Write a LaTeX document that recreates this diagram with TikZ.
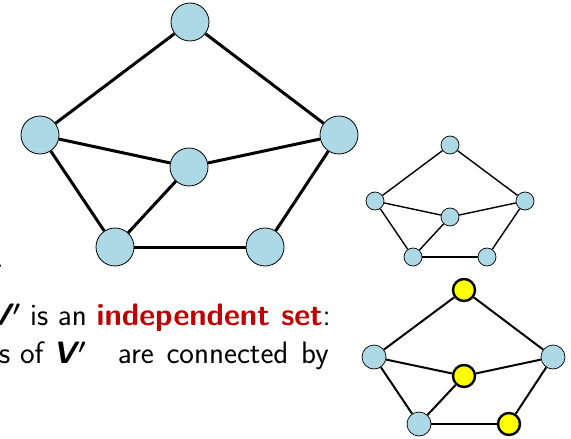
\documentclass[tikz,border=0pt]{standalone}
\usepackage{xcolor}
\definecolor{nodeblue}{RGB}{173,216,230}
\definecolor{hlred}{RGB}{192,0,0}
\definecolor{hlyellow}{RGB}{255,255,0}
\newcommand{\vprime}{{\bfseries\itshape V}\kern2.5pt{\boldmath$'$}}
\begin{document}
\begin{tikzpicture}[x=1pt,y=-1pt,
  bigv/.style={circle,draw=black,fill=nodeblue,line width=0.8pt,minimum size=38pt,inner sep=0pt},
  bige/.style={line width=3pt},
  smallv/.style={circle,draw=black,fill=nodeblue,line width=0.7pt,minimum size=18pt,inner sep=0pt},
  smalle/.style={line width=1.4pt},
  midv/.style={circle,draw=black,fill=nodeblue,line width=0.7pt,minimum size=24pt,inner sep=0pt},
  selv/.style={circle,draw=black,fill=hlyellow,line width=2.4pt,minimum size=22pt,inner sep=0pt},
  mide/.style={line width=2pt},
  txt/.style={inner sep=0pt,font=\sffamily\fontsize{31}{36}\selectfont}]
\useasboundingbox (0,0) rectangle (571,439);
\clip (0,0) rectangle (571,439);
% big graph
\node[bigv] (T) at (190,22) {};
\node[bigv] (L) at (40,135) {};
\node[bigv] (R) at (339,135) {};
\node[bigv] (C) at (189,167) {};
\node[bigv] (BL) at (115,247) {};
\node[bigv] (BR) at (265,247) {};
\draw[bige] (T) -- (L);
\draw[bige] (T) -- (R);
\draw[bige] (L) -- (C);
\draw[bige] (C) -- (R);
\draw[bige] (L) -- (BL);
\draw[bige] (C) -- (BL);
\draw[bige] (BL) -- (BR);
\draw[bige] (BR) -- (R);
% small graph 1
\node[smallv] (t1) at (450,145) {};
\node[smallv] (l1) at (375,201) {};
\node[smallv] (r1) at (525,201) {};
\node[smallv] (c1) at (450,217) {};
\node[smallv] (bl1) at (413,257) {};
\node[smallv] (br1) at (487,257) {};
\draw[smalle] (t1) -- (l1);
\draw[smalle] (t1) -- (r1);
\draw[smalle] (l1) -- (c1);
\draw[smalle] (c1) -- (r1);
\draw[smalle] (l1) -- (bl1);
\draw[smalle] (c1) -- (bl1);
\draw[smalle] (bl1) -- (br1);
\draw[smalle] (br1) -- (r1);
% small graph 2 (independent set highlighted)
\node[selv] (t2) at (464,290) {};
\node[midv] (l2) at (374,357) {};
\node[midv] (r2) at (553,357) {};
\node[selv] (c2) at (464,376) {};
\node[midv] (bl2) at (419,424) {};
\node[selv] (br2) at (509,424) {};
\draw[mide] (t2) -- (l2);
\draw[mide] (t2) -- (r2);
\draw[mide] (l2) -- (c2);
\draw[mide] (c2) -- (r2);
\draw[mide] (l2) -- (bl2);
\draw[mide] (c2) -- (bl2);
\draw[mide] (bl2) -- (br2);
\draw[mide] (br2) -- (r2);
% text
\node[txt,anchor=base east] (dot) at (4,267) {.};
\node[txt,anchor=base east] (line1) at (331,325) {\vprime\ is an \textcolor{hlred}{\bfseries independent set}:};
\node[txt,anchor=base west] (l2a) at (-1,363) {s of};
\node[txt,anchor=base west] (l2b) at (53,363) {\vprime};
\node[txt,anchor=base east] (l2c) at (329,363) {are\hspace{3pt} connected\hspace{3pt} by};
\end{tikzpicture}
\end{document}
